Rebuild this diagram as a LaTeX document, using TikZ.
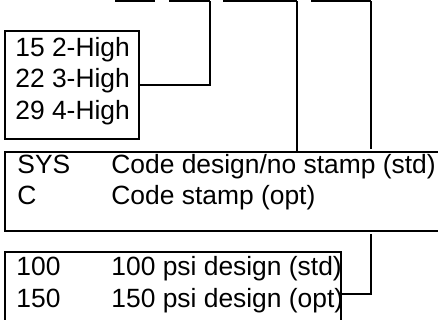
\documentclass[tikz,border=0pt]{standalone}
\usepackage{fontspec}
\setmainfont{Liberation Sans}
\usetikzlibrary{fit}

\tikzset{
  box/.style={draw=black, fill=white, line width=1pt, inner sep=0pt},
  gapbox/.style={preaction={draw=white, line width=3pt}},
  lbl/.style={anchor=base west, inner sep=0pt, font=\fontsize{13.2}{15}\selectfont},
  wire/.style={draw=black, line width=1pt},
  blank/.style={draw=black, line width=1pt},
}

\begin{document}
\begin{tikzpicture}[x=0.5pt,y=-0.5pt]
  \useasboundingbox (0,0) rectangle (438,320);
  \clip (0,0) rectangle (438,320);

  %% blanks
  \coordinate (b1a) at (115,1.5);   \coordinate (b1b) at (155,1.5);
  \coordinate (b2a) at (169,1.5);   \coordinate (b2b) at (209.5,1.5);
  \coordinate (b3a) at (223,1.5);   \coordinate (b3b) at (296.5,1.5);
  \coordinate (b4a) at (311,1.5);   \coordinate (b4b) at (371,1.5);
  \draw[blank] (b1a) -- (b1b);
  \draw[blank] (b2a) -- (b2b);
  \draw[blank] (b3a) -- (b3b);
  \draw[blank] (b4a) -- (b4b);

  %% height
  \node[box, fit={(5,31) (139,139)}] (heights) {};
  \node[lbl] (h15) at (15,57)  {15 2-High};
  \node[lbl] (h22) at (15,88)  {22 3-High};
  \node[lbl] (h29) at (15,120) {29 4-High};
  \draw[wire] (b2b) |- (heights.east);

  %% pressure
  \node[box, fit={(5,252) (341,336)}] (rating) {};
  \node[lbl] (p100) at (16,275)  {100};
  \node[lbl] (p100t) at (111,275) {100 psi design (std)};
  \node[lbl] (p150) at (16,307)  {150};
  \node[lbl] (p150t) at (111,307) {150 psi design (opt)};
  \draw[wire] (b4b) |- (rating.east);

  %% code
  \node[box, gapbox, fit={(5,152) (445,231)}] (stamp) {};
  \node[lbl] (sys) at (17,174)  {SYS};
  \node[lbl] (syst) at (111,174) {Code design/no stamp (std)};
  \node[lbl] (cc) at (17,205)   {C};
  \node[lbl] (cct) at (111,205)  {Code stamp (opt)};
  \draw[wire] (b3b) -- (b3b |- stamp.north);
\end{tikzpicture}
\end{document}
